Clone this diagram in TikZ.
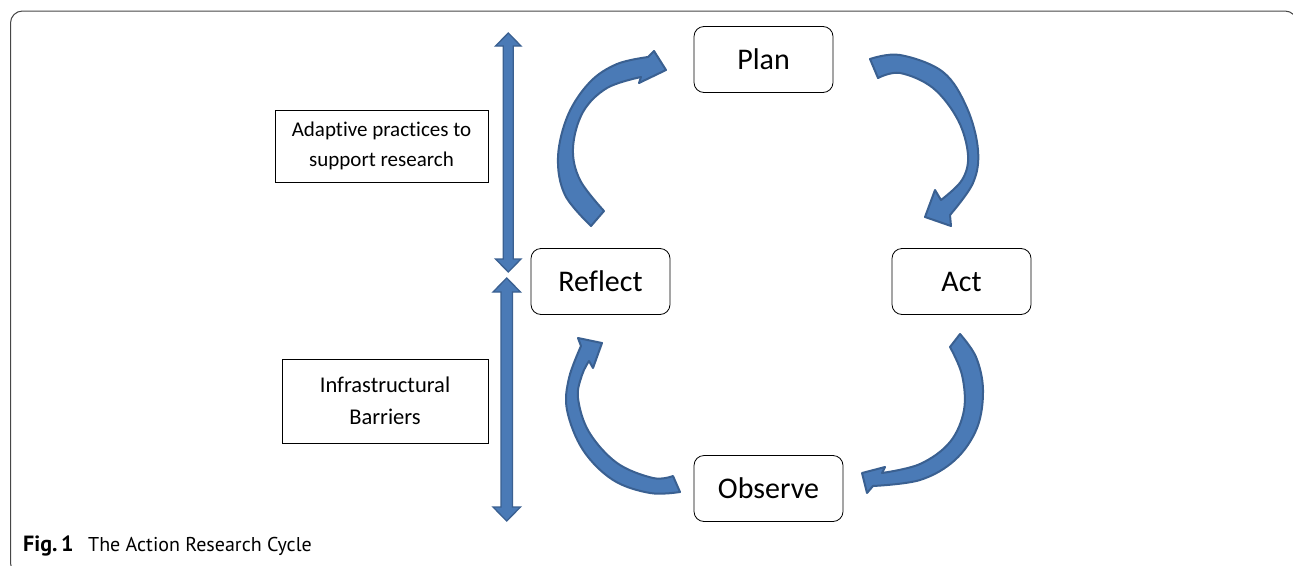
\documentclass[tikz,border=0pt]{standalone}
\usepackage{fontspec}
\setmainfont[RawFeature={-liga;-clig;-dlig;-calt}]{Carlito}
\newfontfamily\capfont{PT Sans}
\definecolor{arrowfill}{RGB}{74,122,182}
\definecolor{arrowline}{RGB}{58,96,145}
\definecolor{framecol}{RGB}{70,70,70}
\begin{document}
\begin{tikzpicture}[x=1pt,y=-1pt,
  stage/.style={draw=black, line width=0.8pt, rounded corners=10pt, fill=white,
    minimum width=139pt, minimum height=66pt, inner sep=0pt,
    font=\fontsize{30}{36}\selectfont},
  notebox/.style={draw=black, line width=0.8pt, align=center, inner sep=0pt},
  bigarrow/.style={fill=arrowfill, draw=arrowline, line width=2pt, line join=round},
  dblarrow/.style={fill=arrowfill, draw=arrowline, line width=1.3pt, line join=miter}]
\useasboundingbox (0,0) rectangle (1293,565);
\begin{scope}
\clip (0,0) rectangle (1293,565);
\draw[framecol, line width=1pt, rounded corners=12pt] (10.5,11) rectangle (1297,575);
\end{scope}

% stage nodes
\node[stage] (plan) at (763.5,59.5) {Plan};
\node[stage] (reflect) at (600.5,281.5) {Reflect};
\node[stage] (act) at (961.5,281.5) {Act};
\node[stage, minimum width=149pt] (observe) at (768.5,488.5) {Observe};

% side notes
\node[notebox, minimum width=213pt, minimum height=72pt,
  font=\fontsize{21}{30}\selectfont] (adapt) at (381.5,146) {Adaptive practices to\\support research};
\node[notebox, minimum width=206pt, minimum height=84pt,
  font=\fontsize{22.5}{32}\selectfont] (infra) at (385,401) {Infrastructural\\Barriers};

% vertical double arrows
\draw[dblarrow] (508.3,33) -- (521,46) -- (513.3,46) -- (513.3,259) -- (521,259)
  -- (508.3,272) -- (495.5,259) -- (503.3,259) -- (503.3,46) -- (495.5,46) -- cycle;
\draw[dblarrow] (506.7,278) -- (520.5,292) -- (512.5,292) -- (512.5,507) -- (520.5,507)
  -- (506.7,521) -- (493,507) -- (501,507) -- (501,292) -- (493,292) -- cycle;

% curved arrows
% Reflect -> Plan
\draw[bigarrow] plot[smooth, tension=0.6] coordinates {(591,226) (565,195) (558,157) (568,115) (590,82) (617,64) (648,57)}
  -- (654,51) -- (666,70) -- (639,83)
  -- plot[smooth, tension=0.6] coordinates {(641,77) (607,88) (583,112) (573,148) (580,180) (604,211)} -- cycle;
% Plan -> Act
\draw[bigarrow] plot[smooth, tension=0.6] coordinates {(870,59) (900,55) (943,72) (967,108) (978,150) (973,183) (950,215)}
  -- (951,226) -- (925,217) -- (935,190)
  -- plot[smooth, tension=0.6] coordinates {(941,200) (962,180) (968,155) (958,120) (933,88) (900,73) (878,78)} -- cycle;
% Act -> Observe
\draw[bigarrow] plot[smooth, tension=0.6] coordinates {(960,334) (976,357) (983,390) (977,428) (955,460) (920,480) (873,486)}
  -- (867,493) -- (862,473) -- (885,467)
  -- plot[smooth, tension=0.6] coordinates {(882,473) (920,464) (950,442) (964,410) (962,375) (950,347)} -- cycle;
% Observe -> Reflect
\draw[bigarrow] plot[smooth, tension=0.6] coordinates {(680,492) (650,493) (613,480) (583,450) (567,410) (569,378) (581,346)}
  -- (578,338) -- (602,343) -- (593,368)
  -- plot[smooth, tension=0.6] coordinates {(589,361) (582,375) (578,398) (589,432) (617,463) (653,478) (673,476)} -- cycle;

% caption
\node[anchor=base west, inner sep=0pt, font=\capfont\bfseries\fontsize{22}{26}\selectfont] (figlbl) at (23,551) {Fig.\,1};
\node[anchor=base west, inner sep=0pt, font=\capfont\fontsize{20}{24}\selectfont] (figcap) at (88,551) {The Action Research Cycle};
\end{tikzpicture}
\end{document}
